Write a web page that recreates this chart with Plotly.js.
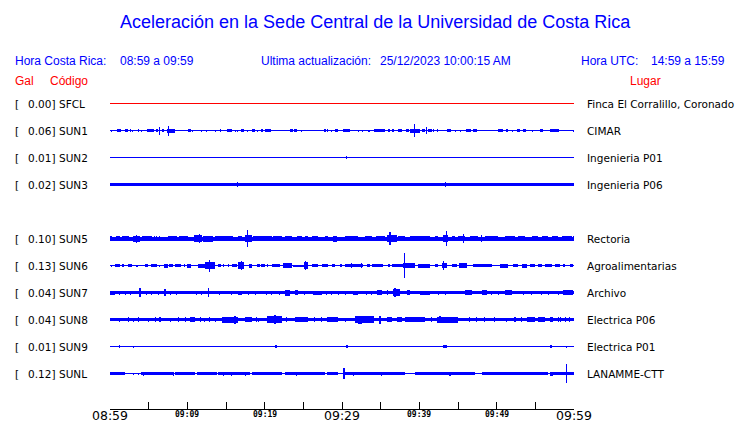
<!DOCTYPE html>
<html><head><meta charset="utf-8">
<script src="https://cdn.plot.ly/plotly-3.0.1.min.js"></script>
<style>html,body{margin:0;padding:0;background:#fff}#chart{width:740px;height:423px}</style>
</head><body><div id="chart"></div>
<script>
// ---------------- DATA ----------------
const codes  = ['SFCL','SUN1','SUN2','SUN3','SUN5','SUN6','SUN7','SUN8','SUN9','SUNL'];
const pgaGal = [0.00, 0.06, 0.01, 0.02, 0.10, 0.13, 0.04, 0.04, 0.01, 0.12];
const places = ['Finca El Corralillo, Coronado','CIMAR','Ingenieria P01','Ingenieria P06','Rectoria',
                'Agroalimentarias','Archivo','Electrica P06','Electrica P01','LANAMME-CTT'];
// background noise half-amplitude of each trace (display units)
const noiseAmp = [0.5, 0.5, 0.5, 1.6, 2.0, 0.5, 1.5, 1.8, 0.5, 0.5];
// bursts: [minute after 08:59, duration (min), half-amplitude]
const burstsSFCL = [];
const burstsSUN1 = [[0.2,0.13,1],[1.15,0.56,1.5],[2.15,0.35,1.2],[2.63,0.13,1.2],[2.9,0.13,1],[3.72,0.13,1.2],[4.03,0.13,1],[4.5,0.13,0.8],[5.25,0.95,1.7],[6.08,0.35,1.5],[6.38,0.13,4],[6.85,0.35,1.7],[7.9,1.04,2],[7.54,0.13,5],[10.3,0.34,1.3],[10.7,0.13,1],[11.3,0.13,0.8],[11.85,0.13,1],[12.5,0.13,1],[13.02,0.13,0.8],[13.65,0.13,1],[14.27,0.17,1.2],[15.43,0.6,1.4],[16.18,0.13,1],[16.53,0.13,1],[17.09,0.38,1.4],[17.73,0.13,1],[18.58,0.43,1.4],[19.12,0.13,1],[19.61,0.26,1.3],[20.45,0.73,1.4],[23.52,0.39,1.2],[24.01,0.34,1.3],[24.74,0.13,1],[26.16,0.13,0.8],[27.2,0.13,0.8],[27.78,0.22,1.2],[28.15,0.17,1.2],[28.66,0.13,1],[29.33,0.39,1.3],[30.6,0.95,1.5],[31.6,0.13,0.8],[32.07,0.13,1],[32.63,0.13,1],[33.5,0.21,1],[34.43,0.69,1.4],[35.17,0.78,1.6],[36.12,0.26,1.2],[36.55,0.26,1.2],[37.5,0.52,1.4],[38.47,0.38,1.2],[39.46,1.25,2],[39.35,0.13,6.5],[40.53,0.39,1.3],[40.91,0.13,3.3],[41.33,0.51,1.3],[41.87,0.13,1.2],[42.4,0.13,1.2],[43.83,0.51,1.4],[44.63,0.13,1],[45.28,0.13,1],[46.3,0.65,1.6],[47.24,0.52,1.3],[48.49,0.13,0.8],[50.5,0.69,1.4],[51.3,0.21,1.2],[52.05,0.13,1],[52.85,0.43,1.3],[53.6,0.3,1.2],[54.67,0.13,1],[55.78,0.35,1.2],[56.12,0.13,0.8],[57.45,1.21,1.4],[59.93,0.13,1]];
const burstsSUN2 = [[30.56,0.13,1.3]];
const burstsSUN3 = [[16.5,0.13,2.4],[43.36,0.13,2.4]];
const burstsSUN5 = [[0.11,0.22,2.5],[1.0,0.56,2.3],[2.03,0.86,2.3],[3.45,0.86,3],[3.45,0.13,4],[4.74,1.3,2.2],[5.73,0.13,2.5],[6.03,0.13,2.5],[6.34,0.13,2.3],[8.08,1.08,2.7],[9.48,1.12,2.3],[11.38,0.95,3.5],[11.55,0.13,4.5],[12.7,1.3,3],[14.76,2.37,2.2],[16.77,0.52,2.7],[17.89,0.86,3.3],[17.8,0.2,8.7],[19.7,2.37,2.1],[21.66,1.08,2.1],[23.06,0.86,2.2],[24.46,0.64,2.2],[25.43,0.43,2.3],[26.5,0.86,2.4],[28.0,0.43,2.3],[29.1,0.43,3],[31.25,1.72,2.1],[33.4,0.86,2.4],[35.0,1.08,2.1],[36.42,1.3,3.3],[36.2,0.2,6.7],[37.7,0.86,2.7],[40.1,2.6,2.1],[42.25,0.43,2.1],[43.43,0.65,3.3],[43.49,0.2,7.3],[44.4,0.43,2.7],[45.47,0.86,2.7],[45.73,0.13,4.7],[47.1,1.08,2.3],[48.06,0.13,3.3],[49.35,1.72,2.1],[51.72,1.3,2.3],[53.23,0.86,2.3],[54.96,0.86,2.3],[56.25,0.86,2.3],[57.54,0.86,2.1],[59.05,1.3,2.7],[59.91,0.13,2.7]];
const burstsSUN6 = [[0.17,0.17,1],[0.97,0.65,1.7],[1.72,0.26,1.3],[2.54,0.52,1.7],[3.45,0.26,1],[4.74,0.43,1.3],[5.67,0.73,1.3],[6.34,0.13,1],[7.24,0.43,2],[7.93,0.52,1.7],[8.8,0.78,1.7],[9.57,0.13,1.3],[10.2,0.56,2],[11.8,0.95,2],[12.93,1.3,3.3],[12.84,0.2,6],[14.2,0.43,1.7],[14.7,0.13,1.3],[15.3,0.13,1.3],[16.05,0.65,1.7],[16.94,0.86,3.3],[16.94,0.13,4.3],[18.2,0.43,2],[19.2,0.43,1.3],[19.8,0.43,1.3],[20.39,0.13,1.7],[21.45,1.08,1.3],[22.95,1.08,2.3],[24.45,1.5,1],[25.35,0.43,3.3],[25.34,0.13,4.3],[26.5,0.86,1.3],[27.8,0.86,1.3],[28.88,0.43,1.3],[29.9,0.3,1.7],[31.57,2.37,1.5],[31.25,0.13,2.3],[32.54,0.13,2.3],[33.4,0.43,1.3],[34.6,1.5,1.3],[36.05,0.3,1.3],[37.2,1.5,1.3],[38.06,0.15,12.3],[38.7,1.5,2.3],[40.6,1.5,2],[42.25,0.43,1.3],[43.2,0.65,2.7],[43.15,0.13,4.3],[44.5,0.65,1.7],[45.62,1.0,2.3],[48.17,2.37,1.3],[50.97,1.08,2],[52.48,0.65,1.3],[53.55,0.65,2],[54.63,0.65,1.3],[55.6,0.43,1.3],[56.68,0.86,1.3],[57.87,0.65,1.7],[58.73,0.22,1.3],[59.7,0.43,1.3]];
const burstsSUN7 = [[0.32,0.65,2],[1.29,0.13,2],[1.94,0.13,2],[2.59,0.13,2],[3.88,0.15,4.3],[4.74,0.13,2],[5.39,0.13,2],[6.25,0.13,2],[7.11,0.15,3.3],[7.76,0.13,2],[8.62,0.13,2],[9.27,0.13,1.7],[11.2,0.13,2],[11.85,0.13,2],[12.72,0.15,4.3],[13.58,0.13,1.7],[14.22,0.13,2],[14.87,0.13,1.7],[15.73,0.13,2],[16.81,0.43,2],[17.89,0.13,2],[18.75,0.13,2],[20.26,0.13,2],[20.9,0.13,2],[21.98,0.13,2],[22.95,0.65,3],[24.14,0.43,2.7],[25.2,0.13,2],[26.83,1.08,2],[28.02,0.13,2],[28.66,0.13,2],[29.53,0.13,2],[30.39,0.13,2],[31.79,0.65,2],[33.19,0.13,2],[33.84,0.13,2],[34.8,0.65,2.7],[35.9,0.13,2.7],[37.07,0.86,3.3],[36.85,0.15,4.3],[38.58,0.43,2.7],[40.73,1.3,2],[42.46,0.13,2],[43.32,0.13,2],[46.34,0.86,2.7],[48.38,0.65,2.7],[49.35,0.13,2],[50.22,0.13,2],[51.51,0.86,2.3],[53.45,0.13,2],[54.53,0.13,2],[55.82,0.13,2],[56.68,0.13,2],[57.97,0.13,2],[59.27,1.3,2.3]];
const burstsSUN8 = [[1.29,0.13,2],[2.37,0.13,2.2],[3.02,0.13,2],[3.66,0.13,2.2],[4.96,0.13,2],[5.82,0.13,2.2],[6.47,0.2,2.3],[7.76,0.13,2],[8.84,0.13,2.2],[9.7,0.13,2.2],[10.67,0.65,2.5],[11.64,0.13,2.2],[12.28,0.13,2],[12.93,0.13,2.2],[13.58,0.13,2],[15.52,2.16,3],[16.16,0.2,4],[17.89,0.86,2.5],[18.97,0.13,2.2],[19.18,0.13,2],[21.23,1.94,3.2],[21.34,0.2,4.7],[22.84,0.13,2.2],[24.78,1.72,2.5],[26.5,0.13,2.2],[27.37,0.13,2.2],[28.77,1.5,2.7],[30.39,0.13,2],[32.9,2.37,3.3],[32.33,0.4,4],[34.91,0.3,4],[36.1,0.65,2.5],[37.39,0.65,2.5],[39.44,2.6,2.5],[41.6,0.13,2.2],[43.64,2.8,3],[42.67,0.3,3.5],[46.55,0.13,2.2],[47.41,0.13,2.2],[48.49,0.13,2.2],[49.78,0.13,2.2],[51.3,0.13,2],[52.37,0.13,2.5],[53.23,0.13,2.2],[54.42,1.08,2.7],[55.82,0.86,2.5],[57.11,0.43,2.7],[57.97,0.13,2.2],[58.19,0.13,2.2],[58.84,0.13,2.2],[59.48,0.13,2.2]];
const burstsSUN9 = [[1.29,0.13,1.3],[3.02,0.13,1],[7.03,0.13,0.8],[7.84,0.13,0.8],[10.9,0.13,0.8],[14.66,0.13,0.8],[15.65,0.13,0.8],[17.89,0.13,0.8],[19.1,0.13,0.8],[21.5,0.3,1.3],[24.35,0.13,0.8],[25.86,0.13,0.8],[30.65,0.3,1.3],[32.97,0.13,0.8],[34.7,0.13,0.8],[36.34,0.13,0.8],[37.37,0.13,0.8],[43.3,0.43,1.3],[44.96,0.13,0.8],[54.0,0.13,0.8],[56.6,0.13,0.8],[57.05,0.3,1.2],[58.97,0.13,1]];
const burstsSUNL = [[0.97,1.94,1.1],[3.02,0.13,1],[3.66,0.13,1],[6.1,4.18,1.3],[4.31,0.13,2],[8.19,0.13,2],[9.7,2.59,1.3],[12.5,2.59,1.3],[16.05,4.1,1.3],[14.66,0.13,2],[15.73,0.13,2],[17.46,0.13,2],[20.26,3.88,1.2],[25.2,5.17,1.3],[24.14,0.13,2],[28.77,1.5,1.3],[30.26,0.15,5.7],[34.27,7.76,1.2],[31.47,0.13,2],[33.84,0.13,1.8],[35.13,0.13,2],[43.3,7.76,1.3],[43.97,0.3,2],[52.37,8.62,1.3],[57.11,0.3,2],[59.0,0.15,9.3],[58.6,3.0,1.5]];
const stationBursts = [burstsSFCL,burstsSUN1,burstsSUN2,burstsSUN3,burstsSUN5,burstsSUN6,burstsSUN7,burstsSUN8,burstsSUN9,burstsSUNL];

const tickMinutes = [0,5,10,15,20,25,30,35,40,45,50,55,60];
const labelMinutes = [0,10,20,30,40,50,60];
const labelText = ['08:59','09:09','09:19','09:29','09:39','09:49','09:59'];

const titleText = 'Aceleración en la Sede Central de la Universidad de Costa Rica';
const localRange = '08:59 a 09:59';
const utcRange = '14:59 a 15:59';
const updated = '25/12/2023 10:00:15 AM';

// ---------------- DRAWING ----------------
const BLUE = '#0000ff', RED = '#ff0000';
const HEAD = 'Liberation Sans, Arial, sans-serif';
const LAB = 'DejaVu Sans, sans-serif';
const L = 110, R = 574, T = 90, B = 409;
const ROW0 = 103.5;                            // pixel centre of first row
const px2paperX = p => (p - L) / (R - L);
const px2paperY = p => (B - p) / (B - T);
const slot = i => (i < 4 ? i : i + 1);        // SUN4 slot left empty
const rowY = i => -27 * slot(i);

const traces = [];
codes.forEach((c, i) => {
  const col = i === 0 ? RED : BLUE;
  const y0 = rowY(i);
  traces.push({type:'bar', x:[30], width:[60], base:[y0 - noiseAmp[i]], y:[2*noiseAmp[i]],
    marker:{color:col, line:{width:0}}, hoverinfo:'skip', showlegend:false});
  const b = stationBursts[i];
  if (b.length) traces.push({type:'bar', x:b.map(d=>d[0]), width:b.map(d=>Math.max(d[1],0.13)),
    base:b.map(d=>y0 - d[2]), y:b.map(d=>2*d[2]),
    marker:{color:col, line:{width:0}}, hoverinfo:'skip', showlegend:false});
});

const ann = [];
const A = (o) => ann.push(Object.assign({showarrow:false, borderpad:0, borderwidth:0}, o));
codes.forEach((c, i) => {
  const y = rowY(i);
  const f = {family:LAB, size:10.5, color:'#000'};
  A({xref:'paper', yref:'y', x:px2paperX(15), y, xanchor:'left', yanchor:'middle', text:'[', font:f});
  A({xref:'paper', yref:'y', x:px2paperX(55), y, xanchor:'right', yanchor:'middle', text:pgaGal[i].toFixed(2)+']', font:f});
  A({xref:'paper', yref:'y', x:px2paperX(58.5), y, xanchor:'left', yanchor:'middle', text:c, font:f});
  A({xref:'paper', yref:'y', x:px2paperX(587), y, xanchor:'left', yanchor:'middle', text:places[i], font:f});
});
labelMinutes.forEach((m, k) => {
  const big = (k % 3 === 0);
  A({xref:'x', yref:'paper', x:m, y:px2paperY(big ? 415.5 : 414), xanchor:'center', yanchor:'middle',
     text:labelText[k], font: big ? {family:LAB, size:12.5, color:'#000'} : {family:'DejaVu Sans Mono, monospace', size:8, color:'#000', weight:'bold'}});
});
const hf = {family:HEAD, size:12, color:BLUE};
const rf = {family:HEAD, size:12, color:RED};
A({xref:'paper', yref:'paper', x:px2paperX(15), y:px2paperY(61), xanchor:'left', yanchor:'middle', text:'Hora Costa Rica:', font:hf});
A({xref:'paper', yref:'paper', x:px2paperX(120), y:px2paperY(61), xanchor:'left', yanchor:'middle', text:localRange, font:hf});
A({xref:'paper', yref:'paper', x:px2paperX(261), y:px2paperY(61), xanchor:'left', yanchor:'middle', text:'Ultima actualización:', font:hf});
A({xref:'paper', yref:'paper', x:px2paperX(380), y:px2paperY(61), xanchor:'left', yanchor:'middle', text:updated, font:hf});
A({xref:'paper', yref:'paper', x:px2paperX(581), y:px2paperY(61), xanchor:'left', yanchor:'middle', text:'Hora UTC:', font:hf});
A({xref:'paper', yref:'paper', x:px2paperX(651), y:px2paperY(61), xanchor:'left', yanchor:'middle', text:utcRange, font:hf});
A({xref:'paper', yref:'paper', x:px2paperX(15), y:px2paperY(80.5), xanchor:'left', yanchor:'middle', text:'Gal', font:rf});
A({xref:'paper', yref:'paper', x:px2paperX(50), y:px2paperY(80.5), xanchor:'left', yanchor:'middle', text:'Código', font:rf});
A({xref:'paper', yref:'paper', x:px2paperX(630), y:px2paperY(80.5), xanchor:'left', yanchor:'middle', text:'Lugar', font:rf});

const layout = {
  width:740, height:423,
  margin:{l:L, r:740-R, t:T, b:423-B, pad:0},
  paper_bgcolor:'#fff', plot_bgcolor:'#fff',
  barmode:'overlay', bargap:0,
  title:{text:titleText, font:{family:HEAD, size:18, color:BLUE}, x:0.507, xanchor:'center', xref:'container',
         y:1-22/423, yanchor:'middle', yref:'container'},
  xaxis:{range:[0,60], tickvals:tickMinutes, ticks:'inside', ticklen:7, tickwidth:1, tickcolor:'#000',
         showticklabels:false, showline:true, linecolor:'#000', linewidth:1, showgrid:false, zeroline:false, fixedrange:true},
  yaxis:{range:[-(B-ROW0), ROW0-T], showticklabels:false, ticks:'', showline:false, showgrid:false, zeroline:false, fixedrange:true},
  annotations:ann,
  showlegend:false
};
Plotly.newPlot('chart', traces, layout, {staticPlot:true, displayModeBar:false});
</script>
</body></html>
